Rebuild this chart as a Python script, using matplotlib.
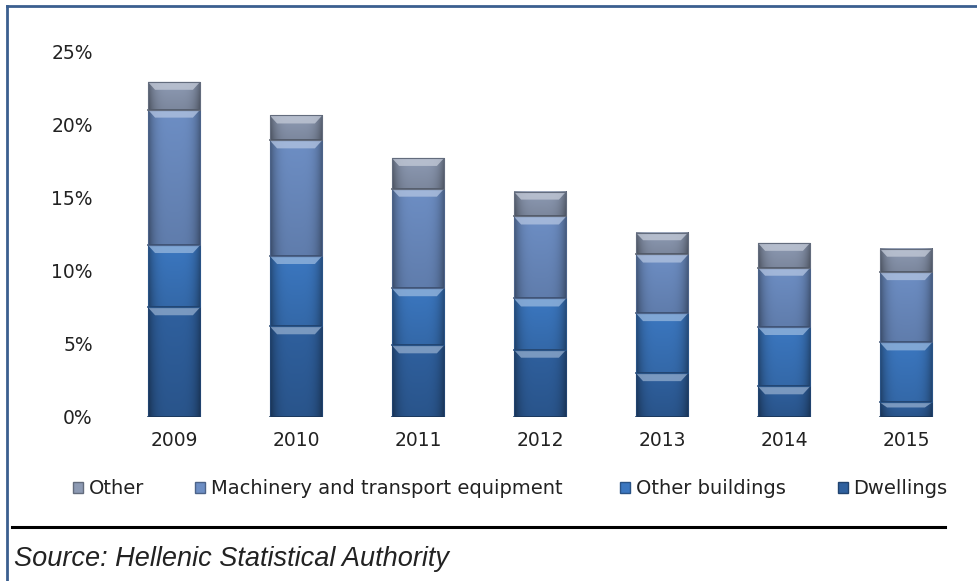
import numpy as np
import matplotlib
matplotlib.use("Agg")
import matplotlib.pyplot as plt
from matplotlib.patches import Patch, Polygon
from matplotlib.lines import Line2D
from matplotlib.colors import to_rgb

plt.rcParams['font.family'] = ['DejaVu Sans']

years = ["2009", "2010", "2011", "2012", "2013", "2014", "2015"]
dwellings = [7.5, 6.2, 4.9, 4.6, 3.0, 2.1, 1.0]
other_buildings = [4.25, 4.8, 3.9, 3.5, 4.1, 4.05, 4.1]
machinery = [9.25, 7.9, 6.8, 5.6, 4.0, 4.05, 4.8]
other = [1.9, 1.7, 2.1, 1.7, 1.5, 1.7, 1.6]

series = [
    ("Dwellings", dwellings, "#2f609e"),
    ("Other buildings", other_buildings, "#3b77c0"),
    ("Machinery and transport equipment", machinery, "#6d8ec4"),
    ("Other", other, "#8d9ab3"),
]
yticks = [0, 5, 10, 15, 20, 25]

fig = plt.figure(figsize=(9.78, 5.81), dpi=100)
ax = fig.add_axes([113/978, 164/581, 854/978, 366/581])

x = np.arange(len(years))
bw = 0.43


def shaded_segment(ax, xc, y0, h, color):
    # bevel-like look: darker sides and bottom, light band at top
    base = np.array(to_rgb(color))
    u = np.linspace(0, 1, 40)
    v = np.linspace(0, 1, 30)
    U, V = np.meshgrid(u, v)
    f = 1.0 - 0.35 * np.abs(2 * U - 1) ** 4 - 0.12 * (1 - V)
    img = np.clip(base[None, None, :] * f[..., None], 0, 1)
    ax.imshow(img, extent=(xc - bw / 2, xc + bw / 2, y0, y0 + h),
              origin="lower", aspect="auto", zorder=2, interpolation="bilinear")
    th = min(0.55, h * 0.35)
    light = np.clip(base + (1 - base) * 0.45, 0, 1)
    hl = Polygon([(xc - bw / 2, y0 + h), (xc + bw / 2, y0 + h),
                  (xc + bw / 2 - 0.06, y0 + h - th), (xc - bw / 2 + 0.06, y0 + h - th)],
                 closed=True, facecolor=light, edgecolor="none", alpha=0.8, zorder=3)
    ax.add_patch(hl)
    ax.add_line(Line2D([xc - bw / 2, xc + bw / 2], [y0, y0], color=base * 0.55,
                       lw=1.2, zorder=4))
    ax.add_patch(plt.Rectangle((xc - bw / 2, y0), bw, h, facecolor="none",
                               edgecolor=base * 0.7, lw=0.8, zorder=4))


bottom = np.zeros(len(years))
for name, vals, col in series:
    for i, v in enumerate(vals):
        shaded_segment(ax, x[i], bottom[i], v, col)
    bottom += np.array(vals)

ax.set_xlim(-0.5, len(years) - 0.5)
ax.set_ylim(0, 25)
ax.set_xticks(x)
ax.set_xticklabels(years)
ax.set_yticks(yticks)
ax.set_yticklabels([f"{t}%" for t in yticks])
ax.tick_params(axis="both", length=0, labelsize=13.5, colors="#222222")
ax.tick_params(axis="y", pad=14.5)
ax.tick_params(axis="x", pad=10)
for s in ax.spines.values():
    s.set_visible(False)

# legend entries placed one by one, like the original
leg_x = [73, 195, 620, 838]
for (n, _, c), lx in zip(series[::-1], leg_x):
    h = Patch(facecolor=c, edgecolor=np.array(to_rgb(c)) * 0.7, label=n)
    leg = fig.legend(handles=[h], loc="center left", bbox_to_anchor=(lx/978, 1 - 489/581),
                     frameon=False, handlelength=0.5, handleheight=0.5,
                     handletextpad=0.3, borderpad=0, borderaxespad=0, fontsize=14)
    leg.get_texts()[0].set_color("#222222")

# frame and footer
fig.add_artist(Line2D([7/978, 7/978], [0, 1 - 6/581], color="#3b5f8f", lw=2,
                      transform=fig.transFigure))
fig.add_artist(Line2D([7/978, 1], [1 - 6/581, 1 - 6/581], color="#3b5f8f", lw=2,
                      transform=fig.transFigure))
fig.add_artist(Line2D([12/978, 945/978], [1 - 527/581, 1 - 527/581], color="black",
                      lw=2.2, transform=fig.transFigure))
fig.text(14/978, 1 - 559/581, "Source: Hellenic Statistical Authority", fontsize=19.5,
         family="Liberation Sans", style="italic", va="center", ha="left", color="#222222")

fig.savefig("out.png", dpi=100)
